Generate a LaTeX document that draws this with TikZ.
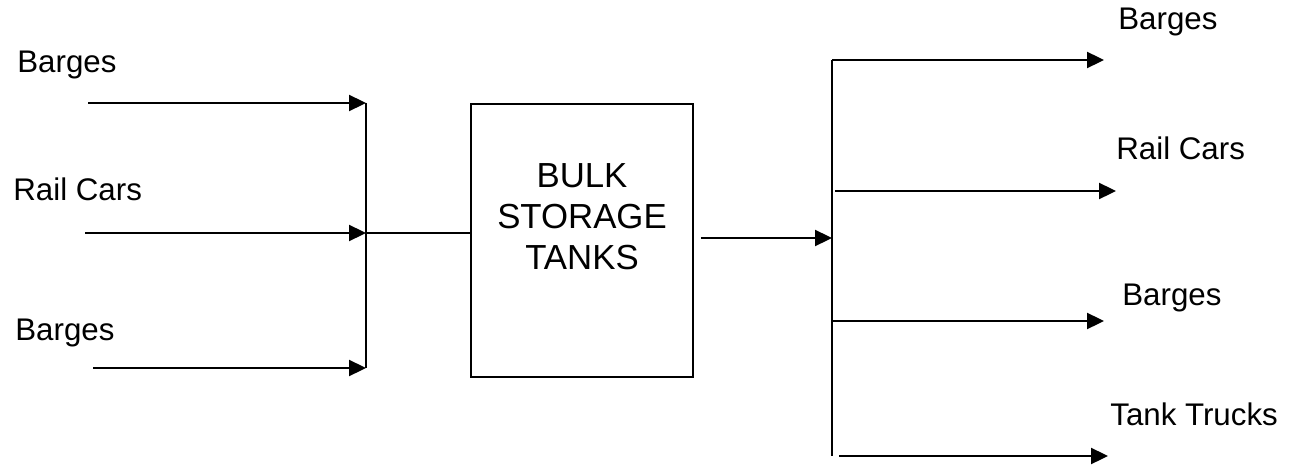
\documentclass[tikz,border=0pt]{standalone}
\usepackage{fontspec}
\setmainfont{Liberation Sans}
\usetikzlibrary{arrows.meta}

\begin{document}
\begin{tikzpicture}[
    x=0.02cm, y=-0.02cm,
    mode/.style={font=\fontsize{17.8}{21}\selectfont, anchor=base west, inner sep=0pt},
    tankbox/.style={rectangle, draw, line width=0.9pt, minimum width=4.44cm,
                    minimum height=5.46cm, inner sep=0pt},
    tanktext/.style={font=\fontsize{19.8}{23.3}\selectfont, align=center, inner sep=0pt},
    feed/.style={line width=1.3pt, -{Triangle[length=0.34cm,width=0.32cm]}},
    trunk/.style={line width=1pt},
  ]
  \useasboundingbox (0,0) rectangle (1304,466);

  % Trunk x-positions
  \def\xL{366}\def\xR{832}

  % INPUT
  \node[mode] (bargesInA) at (17,72) {Barges};
  \node[mode] (railIn)    at (13,200) {Rail Cars};
  \node[mode] (bargesInB) at (15,340) {Barges};
  \coordinate (inA) at (88,103);
  \coordinate (inB) at (85,233);
  \coordinate (inC) at (93,368);
  \coordinate (jA) at (\xL,103);
  \coordinate (jB) at (\xL,233);
  \coordinate (jC) at (\xL,368);
  \draw[feed] (inA) -- (jA);
  \draw[feed] (inB) -- (jB);
  \draw[feed] (inC) -- (jC);
  \draw[trunk] (jA) -- (jC);

  % STORAGE
  \node[tankbox] (tanks) at (582,240.5) {};
  \node[tanktext] (tanksText) at (582,217) {BULK\\STORAGE\\TANKS};
  \draw[trunk] (jB) -- (jB -| tanks.west);

  % OUTPUT
  \coordinate (kIn) at (\xR,238);
  \draw[feed] ([xshift=0.14cm]tanks.east |- kIn) -- (kIn);
  \coordinate (kA) at (\xR,60);
  \coordinate (kB) at (835,191);
  \coordinate (kC) at (\xR,321);
  \coordinate (kD) at (839,456);
  \coordinate (kEnd) at (\xR,456);
  \coordinate (outA) at (1104,60);
  \coordinate (outB) at (1116,191);
  \coordinate (outC) at (1104,321);
  \coordinate (outD) at (1108,456);
  \draw[trunk] (kA) -- (kEnd);
  \draw[feed] (kA) -- (outA);
  \draw[feed] (kB) -- (outB);
  \draw[feed] (kC) -- (outC);
  \draw[feed] (kD) -- (outD);
  \node[mode] (bargesOutA) at (1118,30) {Barges};
  \node[mode] (railOut)    at (1116,159) {Rail Cars};
  \node[mode] (bargesOutB) at (1122,305) {Barges};
  \node[mode] (trucksOut)  at (1110,425) {Tank Trucks};

\end{tikzpicture}
\end{document}
